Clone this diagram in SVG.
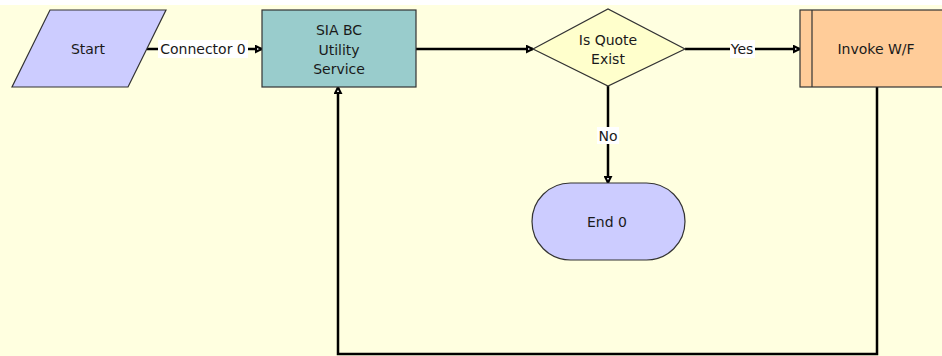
<svg xmlns="http://www.w3.org/2000/svg" width="942" height="356" viewBox="0 0 942 356">
<defs>
<style>
.lbl{font-family:"DejaVu Sans","Liberation Sans",sans-serif;font-size:14px;fill:#1a1a1a;text-anchor:middle}
.node{stroke:#333;stroke-width:1.2}
.conn{fill:none;stroke:#000;stroke-width:2.5}
.bg{fill:#fff}
</style>
<marker id="arr" viewBox="0 0 10 10" refX="9" refY="5" markerWidth="8" markerHeight="9" markerUnits="userSpaceOnUse" orient="auto">
<path d="M1.5,1.5 L8.5,5 L1.5,8.5 Z" fill="#fff" stroke="#000" stroke-width="2.6"/>
</marker>
</defs>
<rect x="0" y="0" width="942" height="356" fill="#fff"/>
<rect x="0" y="5" width="942" height="351" fill="#FFFFE0"/>
<g id="connectors">
<line class="conn" x1="147" y1="49" x2="262" y2="49" marker-end="url(#arr)"/>
<rect class="bg" x="158" y="40" width="90" height="18"/>
<text class="lbl" x="203" y="54">Connector 0</text>
<line class="conn" x1="416" y1="49" x2="533" y2="49" marker-end="url(#arr)"/>
<line class="conn" x1="685" y1="49" x2="800" y2="49" marker-end="url(#arr)"/>
<rect class="bg" x="730" y="40" width="25" height="18"/>
<text class="lbl" x="742" y="54">Yes</text>
<line class="conn" x1="608" y1="86" x2="608" y2="183" marker-end="url(#arr)"/>
<rect class="bg" x="597" y="127" width="22" height="17"/>
<text class="lbl" x="608" y="141">No</text>
<polyline class="conn" points="877,87 877,354 338,354 338,87" marker-end="url(#arr)"/>
</g>
<g id="start">
<polygon class="node" points="50,10 166,10 128,87 12,87" fill="#CCCCFF"/>
<text class="lbl" x="88" y="54">Start</text>
</g>
<g id="sia">
<rect class="node" x="262" y="10" width="154" height="77" fill="#99CCCC"/>
<text class="lbl" x="339" y="35">SIA BC</text>
<text class="lbl" x="339" y="55">Utility</text>
<text class="lbl" x="339" y="74">Service</text>
</g>
<g id="decision">
<polygon class="node" points="533,49 608,9 685,49 608,86" fill="#FFFFCC"/>
<text class="lbl" x="608" y="45">Is Quote</text>
<text class="lbl" x="608" y="64">Exist</text>
</g>
<g id="invoke">
<rect class="node" x="800" y="10" width="160" height="77" fill="#FFCC99"/>
<line class="node" x1="812" y1="10" x2="812" y2="87"/>
<text class="lbl" x="876" y="54">Invoke W/F</text>
</g>
<g id="end">
<rect class="node" x="532" y="183" width="153" height="77" rx="38.5" ry="38.5" fill="#CCCCFF"/>
<text class="lbl" x="607" y="227">End 0</text>
</g>
</svg>
